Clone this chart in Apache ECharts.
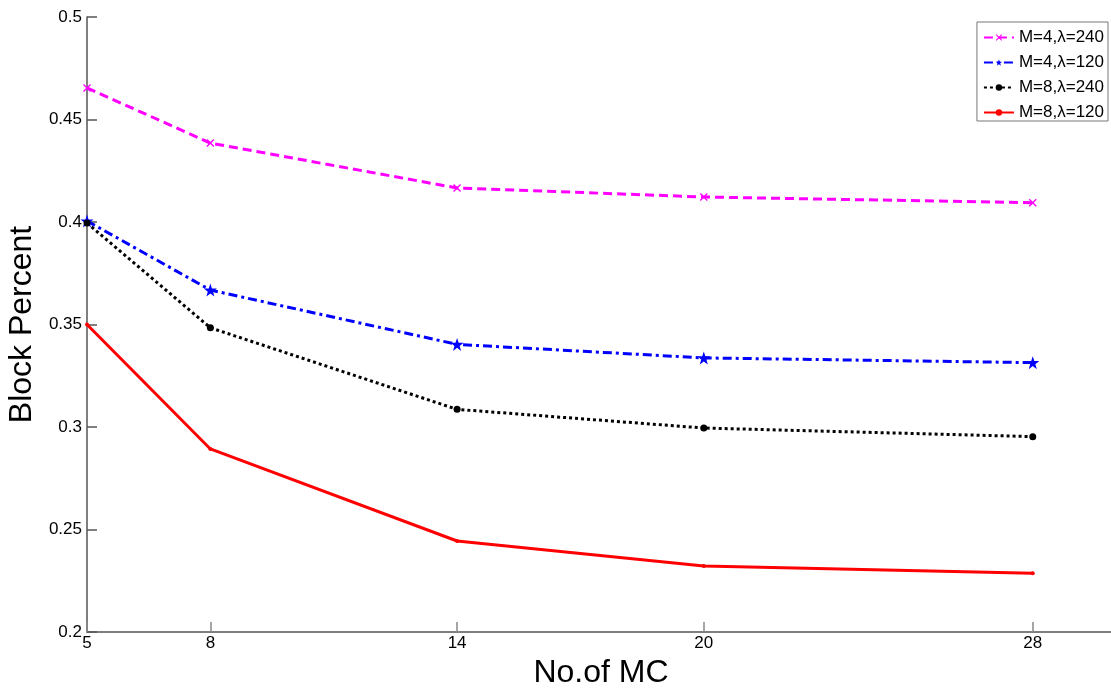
<!DOCTYPE html>
<html>
<head>
<meta charset="utf-8">
<script src="https://cdn.jsdelivr.net/npm/echarts@6/dist/echarts.min.js"></script>
<style>
html,body{margin:0;padding:0;background:#fff;}
#chart{width:1111px;height:690px;}
</style>
</head>
<body>
<div id="chart"></div>
<script>
const xValues = [5, 8, 14, 20, 28];
const xTicks = [5, 8, 14, 20, 28];
const seriesNames = ['M=4,\u03bb=240', 'M=4,\u03bb=120', 'M=8,\u03bb=240', 'M=8,\u03bb=120'];
const m4l240 = [0.4654, 0.4385, 0.4166, 0.4122, 0.4094];
const m4l120 = [0.4005, 0.3668, 0.3403, 0.3337, 0.3314];
const m8l240 = [0.3995, 0.3484, 0.3086, 0.2995, 0.2953];
const m8l120 = [0.3500, 0.2893, 0.2444, 0.2322, 0.2286];
const xTitle = 'No.of MC';
const yTitle = 'Block Percent';

const FONT = '"Liberation Sans", Arial, sans-serif';
const pair = arr => xValues.map((x, i) => [x, arr[i]]);

const xMark = 'path://M0,1.2 L1.2,0 L5,3.8 L8.8,0 L10,1.2 L6.2,5 L10,8.8 L8.8,10 L5,6.2 L1.2,10 L0,8.8 L3.8,5 Z';
const starMark = 'path://M5,0 L6.2,3.6 L10,3.6 L7,5.9 L8.1,9.5 L5,7.3 L1.9,9.5 L3,5.9 L0,3.6 L3.8,3.6 Z';

const chart = echarts.init(document.getElementById('chart'), null, {renderer: 'canvas'});
chart.setOption({
  animation: false,
  backgroundColor: '#fff',
  textStyle: {fontFamily: FONT},
  grid: {left: 87, top: 17, bottom: 58, right: -4, containLabel: false, outerBoundsMode: 'none'},
  legend: {
    orient: 'vertical',
    right: 3,
    top: 22,
    backgroundColor: '#fff',
    borderColor: '#777',
    borderWidth: 1,
    borderRadius: 0,
    padding: [7, 4, 0, 6],
    itemWidth: 30,
    itemHeight: 8,
    itemGap: 8,
    textStyle: {fontFamily: FONT, fontSize: 17, lineHeight: 17, color: '#000'},
    data: seriesNames
  },
  xAxis: {
    type: 'value',
    min: 5,
    max: 30,
    name: xTitle,
    nameLocation: 'middle',
    nameGap: 16,
    nameTextStyle: {fontFamily: FONT, fontSize: 32, color: '#000'},
    axisLine: {show: true, lineStyle: {color: '#555', width: 1.5}},
    axisTick: {show: true, inside: true, length: 10, customValues: xTicks, lineStyle: {color: '#888', width: 1.5}},
    axisLabel: {show: true, customValues: xTicks, fontFamily: FONT, fontSize: 17, color: '#000', margin: 3},
    splitLine: {show: false}
  },
  yAxis: {
    type: 'value',
    min: 0.2,
    max: 0.5,
    interval: 0.05,
    name: yTitle,
    nameLocation: 'middle',
    nameGap: 44,
    nameRotate: 90,
    nameTextStyle: {fontFamily: FONT, fontSize: 32, color: '#000'},
    axisLine: {show: true, lineStyle: {color: '#555', width: 1.5}},
    axisTick: {show: true, inside: true, length: 10, lineStyle: {color: '#555', width: 1.5}},
    axisLabel: {show: true, fontFamily: FONT, fontSize: 17, color: '#000', margin: 5,
      formatter: v => String(parseFloat(v.toFixed(2)))},
    splitLine: {show: false}
  },
  series: [
    {
      name: seriesNames[0], type: 'line', data: pair(m4l240),
      symbol: xMark, symbolSize: 8,
      itemStyle: {color: '#ff00ff'},
      lineStyle: {color: '#ff00ff', width: 3, type: [9, 5]}
    },
    {
      name: seriesNames[1], type: 'line', data: pair(m4l120),
      symbol: starMark, symbolSize: 13,
      itemStyle: {color: '#0000ff'},
      lineStyle: {color: '#0000ff', width: 3, type: [9, 4, 3, 4]}
    },
    {
      name: seriesNames[2], type: 'line', data: pair(m8l240),
      symbol: 'circle', symbolSize: 7,
      itemStyle: {color: '#000'},
      lineStyle: {color: '#000', width: 3, type: [3, 3]}
    },
    {
      name: seriesNames[3], type: 'line', data: pair(m8l120),
      symbol: 'circle', symbolSize: 4,
      itemStyle: {color: '#ff0000'},
      lineStyle: {color: '#ff0000', width: 3, type: 'solid'}
    }
  ]
});
</script>
</body>
</html>
